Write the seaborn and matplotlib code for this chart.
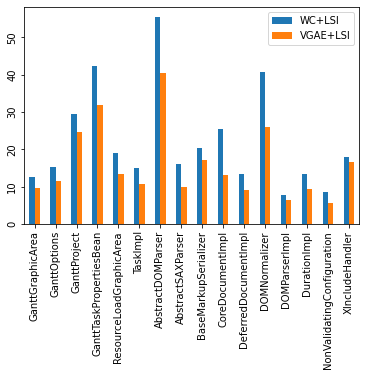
import matplotlib
matplotlib.use("Agg")
import matplotlib.pyplot as plt
import seaborn as sns
import pandas as pd

classes = ["GanttGraphicArea", "GanttOptions", "GanttProject", "GanttTaskPropertiesBean",
           "ResourceLoadGraphicArea", "TaskImpl", "AbstractDOMParser", "AbstractSAXParser",
           "BaseMarkupSerializer", "CoreDocumentImpl", "DeferredDocumentImpl", "DOMNormalizer",
           "DOMParserImpl", "DurationImpl", "NonValidatingConfiguration", "XIncludeHandler"]
wc_lsi = [12.6, 15.3, 29.5, 42.3, 19.0, 15.0, 55.4, 16.1, 20.4, 25.4, 13.4, 40.7, 7.8, 13.4, 8.6, 17.9]
vgae_lsi = [9.6, 11.5, 24.6, 31.9, 13.4, 10.7, 40.4, 9.9, 17.1, 13.1, 9.1, 26.0, 6.4, 9.4, 5.6, 16.6]
series = ["WC+LSI", "VGAE+LSI"]

df = pd.DataFrame({
    "cls": classes * 2,
    "value": wc_lsi + vgae_lsi,
    "method": [series[0]] * len(classes) + [series[1]] * len(classes),
})

fig = plt.figure(figsize=(366 / 72, 376 / 72), dpi=72)
ax = fig.add_axes([0.066, 0.404, 0.916, 0.578])
sns.barplot(data=df, x="cls", y="value", hue="method", hue_order=series,
            palette=["#1f77b4", "#ff7f0e"], saturation=1, width=0.5, ax=ax)
ax.set_xlim(-0.5, len(classes) - 0.5)
ax.set_ylim(0, max(wc_lsi) * 1.05)
ax.set_xlabel("")
ax.set_ylabel("")
ax.tick_params(axis="x", labelrotation=90, labelsize=10)
ax.tick_params(axis="y", labelrotation=90, labelsize=10)
for lbl in ax.get_yticklabels():
    lbl.set_va("center")
ax.legend(title=None, loc="upper right", fontsize=10)
fig.savefig("out.png", dpi=72)
